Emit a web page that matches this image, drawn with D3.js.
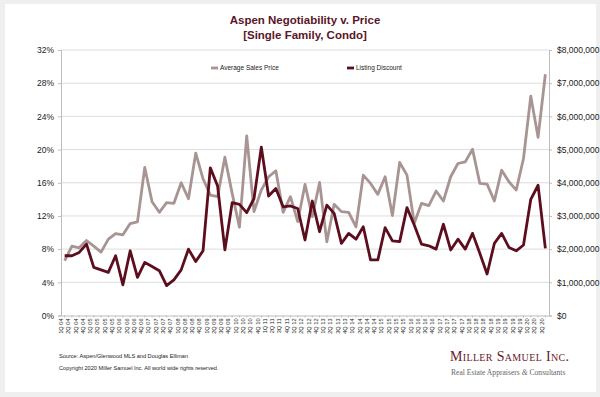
<!DOCTYPE html>
<html>
<head>
<meta charset="utf-8">
<script src="https://cdn.jsdelivr.net/npm/d3@7"></script>
<style>
  body { margin: 0; background: #efefef; }
  svg { display: block; font-family: "Liberation Sans", Arial, sans-serif; }
</style>
</head>
<body>
<div id="container"></div>
<script>
const width = 600;
const height = 397;

// quarters 1Q 04 .. 3Q 20
const years = d3.range(4, 21).map(y => String(y).padStart(2, "0"));
const quarters = [];
years.forEach(y => ["1Q", "2Q", "3Q", "4Q"].forEach(q => quarters.push(q + " " + y)));
quarters.splice(67);

// listing discount, percent
const discount = [
    7.2, 7.2, 7.6, 8.6, 5.8, 5.5, 5.2, 7.2, 3.7, 7.8,
    4.6, 6.4, 5.9, 5.4, 3.6, 4.3, 5.5, 8.0, 6.5, 7.8,
    17.8, 15.6, 7.9, 13.6, 13.4, 12.4, 14.1, 20.3, 14.4, 15.3,
    13.1, 13.2, 12.9, 9.1, 13.8, 10.1, 13.3, 12.3, 8.7, 9.9,
    9.2, 10.7, 6.7, 6.7, 10.6, 9.0, 8.9, 13.0, 10.9, 8.6,
    8.4, 8.0, 11.0, 7.9, 9.2, 8.0, 9.9, 7.5, 5.0, 8.7,
    9.9, 8.2, 7.8, 8.5, 14.0, 15.7, 8.1
];

// average sales price, dollars
const price = [
    1650000, 2090000, 2040000, 2260000, 2090000, 1910000, 2300000, 2470000, 2430000, 2770000,
    2820000, 4460000, 3430000, 3110000, 3400000, 3380000, 4000000, 3520000, 4890000, 4120000,
    3630000, 3580000, 4770000, 3680000, 2660000, 5410000, 3130000, 3780000, 4180000, 4360000,
    3110000, 3580000, 2830000, 3950000, 2980000, 4010000, 2220000, 3350000, 3130000, 3110000,
    2670000, 4230000, 3980000, 3650000, 4180000, 3010000, 4610000, 4230000, 2780000, 3380000,
    3310000, 3750000, 3450000, 4180000, 4580000, 4630000, 5010000, 3980000, 3960000, 3450000,
    4380000, 4030000, 3780000, 4730000, 6610000, 5370000, 7270000
];

const pctTicks = [0, 4, 8, 12, 16, 20, 24, 28, 32];
const priceTicks = [0, 1e6, 2e6, 3e6, 4e6, 5e6, 6e6, 7e6, 8e6];

const margin = { top: 50, right: 51, bottom: 81.5, left: 61 };

const svg = d3.select("#container").append("svg")
    .attr("width", width)
    .attr("height", height);

svg.append("rect")
    .attr("x", 5).attr("y", 4)
    .attr("width", 591).attr("height", 388)
    .attr("fill", "#fff");

const x = d3.scaleBand()
    .domain(quarters)
    .range([margin.left, width - margin.right]);

const yPct = d3.scaleLinear()
    .domain([0, 32])
    .range([height - margin.bottom, margin.top]);

const yPrice = d3.scaleLinear()
    .domain([0, 8e6])
    .range([height - margin.bottom, margin.top]);

const cx = d => x(d) + x.bandwidth() / 2;

// gridlines
svg.append("g")
    .selectAll("line")
    .data(pctTicks.slice(1))
    .join("line")
    .attr("x1", margin.left)
    .attr("x2", width - margin.right)
    .attr("y1", d => yPct(d))
    .attr("y2", d => yPct(d))
    .attr("stroke", "#d4d4d4")
    .attr("stroke-width", 0.8);

// left axis
const leftAxis = svg.append("g")
    .attr("transform", `translate(${margin.left},0)`)
    .call(d3.axisLeft(yPct).tickValues(pctTicks).tickFormat(d => d + "%").tickSize(3).tickPadding(4));

// right axis
const rightAxis = svg.append("g")
    .attr("transform", `translate(${width - margin.right},0)`)
    .call(d3.axisRight(yPrice).tickValues(priceTicks)
        .tickFormat(d => d === 0 ? "$0" : d3.format("$,")(d)).tickSize(3).tickPadding(5));

// bottom axis
const bottomAxis = svg.append("g")
    .attr("transform", `translate(0,${height - margin.bottom})`)
    .call(d3.axisBottom(x).tickSize(2).tickSizeOuter(0));

bottomAxis.selectAll("text")
    .attr("transform", "rotate(-90)")
    .attr("text-anchor", "end")
    .attr("dx", "-3px")
    .attr("dy", "-0.3em")
    .attr("x", 0)
    .attr("y", 0)
    .style("font-size", "5.6px");

[leftAxis, rightAxis, bottomAxis].forEach(g => {
    g.select(".domain").attr("stroke", "#bdbdbd");
    g.selectAll(".tick line").attr("stroke", "#bdbdbd");
    g.selectAll("text").attr("fill", "#222");
});
leftAxis.selectAll("text").style("font-size", "8.5px");
rightAxis.selectAll("text").style("font-size", "8.5px");

// lines
const priceLine = d3.line()
    .x((d, i) => cx(quarters[i]))
    .y(d => yPrice(d));

const discountLine = d3.line()
    .x((d, i) => cx(quarters[i]))
    .y(d => yPct(d));

svg.append("path")
    .datum(price)
    .attr("d", priceLine)
    .attr("fill", "none")
    .attr("stroke", "#a89492")
    .attr("stroke-width", 2.8)
    .attr("stroke-linejoin", "round");

svg.append("path")
    .datum(discount)
    .attr("d", discountLine)
    .attr("fill", "none")
    .attr("stroke", "#5c0e1e")
    .attr("stroke-width", 2.8)
    .attr("stroke-linejoin", "round");

// legend
const legend = [
    { label: "Average Sales Price", color: "#a89492", x: 211 },
    { label: "Listing Discount", color: "#5c0e1e", x: 347 }
];

const lg = svg.append("g")
    .selectAll("g")
    .data(legend)
    .join("g")
    .attr("transform", d => `translate(${d.x},68)`);

lg.append("line")
    .attr("x1", 0).attr("x2", 7)
    .attr("stroke", d => d.color)
    .attr("stroke-width", 2.8);

lg.append("text")
    .attr("x", 9)
    .attr("dy", "0.35em")
    .style("font-size", "6.5px")
    .attr("fill", "#222")
    .text(d => d.label);

// title
const title = svg.append("text")
    .attr("text-anchor", "middle")
    .attr("fill", "#5a1628")
    .style("font-size", "11.5px")
    .style("font-weight", "bold");

title.append("tspan").attr("x", 305).attr("y", 24).text("Aspen Negotiability v. Price");
title.append("tspan").attr("x", 305).attr("y", 38.5).text("[Single Family, Condo]");

// footer
svg.append("text")
    .attr("x", 59).attr("y", 358)
    .style("font-size", "5.6px")
    .attr("fill", "#222")
    .text("Source: Aspen/Glenwood MLS and Douglas Elliman");

svg.append("text")
    .attr("x", 59).attr("y", 370)
    .style("font-size", "5.6px")
    .attr("fill", "#222")
    .text("Copyright 2020 Miller Samuel Inc.  All world wide rights reserved.");

svg.append("text")
    .attr("x", 450).attr("y", 361)
    .style("font-family", "'Liberation Serif', serif")
    .style("font-size", "14px")
    .style("font-variant", "small-caps")
    .attr("textLength", 119)
    .attr("fill", "#6a1a2a")
    .text("Miller Samuel Inc.");

const sub = svg.append("text")
    .attr("x", 451).attr("y", 375)
    .style("font-family", "'Liberation Serif', serif")
    .style("font-size", "7.6px")
    .attr("fill", "#666");
sub.append("tspan").text("Real Estate Appraisers ");
sub.append("tspan").style("font-style", "italic").text("&");
sub.append("tspan").text(" Consultants");
</script>
</body>
</html>
